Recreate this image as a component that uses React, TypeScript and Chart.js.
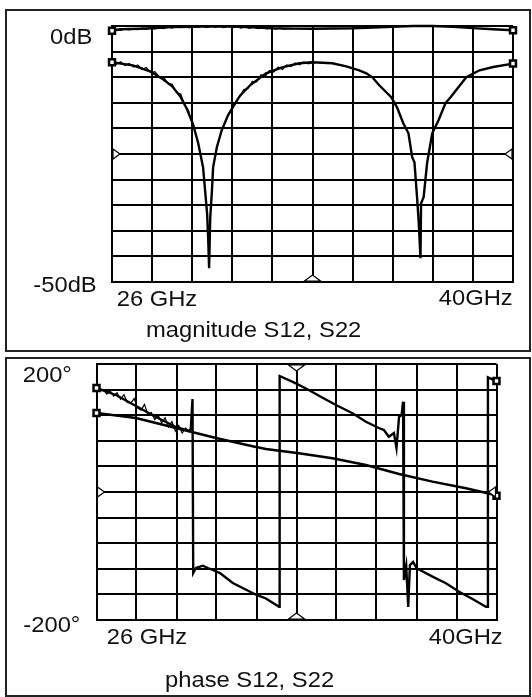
import React, { useEffect, useRef } from 'react';
import { Chart, registerables } from 'chart.js';

Chart.register(...registerables);

// ---------- axes ----------
const FREQ_TICKS = [26, 27.4, 28.8, 30.2, 31.6, 33, 34.4, 35.8, 37.2, 38.6, 40];
const MAG_TICKS = [-50, -45, -40, -35, -30, -25, -20, -15, -10, -5, 0];
const PHASE_TICKS = [-200, -160, -120, -80, -40, 0, 40, 80, 120, 160, 200];

// ---------- magnitude S12 (dB) ----------
const S12_MAG_F = [26.0, 26.28, 26.98, 27.4, 28.1, 28.8, 29.5, 30.2, 30.9, 31.6, 32.3, 33.0, 33.7, 34.4, 35.1, 35.8, 36.5, 37.2, 37.9, 38.6, 39.3, 40.0];
const S12_MAG_DB = [-0.94, -0.64, -0.55, -0.45, -0.21, -0.16, -0.06, -0.12, -0.25, -0.45, -0.51, -0.55, -0.5, -0.45, -0.31, -0.16, 0, 0, -0.16, -0.41, -0.64, -0.84];
const S12_MAG_NOISE_F = [26.0, 26.15, 26.3, 26.45, 26.6, 26.75, 26.9, 27.05, 27.2, 27.35, 27.5, 27.65, 27.8, 27.95, 28.1, 28.25, 28.4, 28.55, 28.7, 28.85, 29.0, 29.15, 29.3, 29.45, 29.6, 29.75, 29.9, 30.05, 30.2, 30.35, 30.5, 30.65, 30.8, 30.95, 31.1, 31.25, 31.4, 31.55, 31.7, 31.85, 32.0, 32.15, 32.3];
const S12_MAG_NOISE_DB = [-0.9, -0.6, -0.85, -0.55, -0.75, -0.5, -0.7, -0.4, -0.65, -0.35, -0.55, -0.3, -0.5, -0.15, -0.4, -0.1, -0.3, -0.05, -0.35, 0.0, -0.25, 0.0, -0.3, -0.05, -0.2, 0.0, -0.3, -0.05, -0.35, -0.1, -0.4, -0.15, -0.45, -0.2, -0.5, -0.3, -0.55, -0.35, -0.6, -0.4, -0.6, -0.45, -0.55];

// ---------- magnitude S22 (dB) ----------
const S22_MAG_F = [26.0, 26.73, 27.33, 27.78, 28.1, 28.38, 28.62, 28.83, 29.01, 29.18, 29.25, 29.32, 29.36, 29.39, 29.43, 29.49, 29.53, 29.66, 29.83, 30.05, 30.3, 30.47, 30.82, 31.38, 31.94, 32.54, 32.99, 33.69, 34.18, 34.63, 34.88, 35.09, 35.33, 35.75, 35.95, 36.17, 36.35, 36.48, 36.56, 36.65, 36.71, 36.77, 36.79, 36.88, 37.0, 37.18, 37.4, 37.64, 37.82, 38.37, 38.83, 39.31, 40.0];
const S22_MAG_DB = [-7.09, -7.68, -8.85, -10.41, -11.78, -13.73, -16.27, -19.2, -22.91, -27.6, -32.09, -36.58, -41.86, -47.33, -37.37, -32.09, -27.6, -23.69, -20.37, -17.44, -15.1, -13.6, -11.58, -9.24, -8.07, -7.28, -7.09, -7.28, -7.87, -8.65, -9.24, -10.02, -11.58, -13.92, -15.88, -19.0, -20.96, -25.64, -26.62, -33.45, -38.53, -45.37, -34.63, -33.45, -26.81, -20.96, -18.42, -15.1, -13.92, -10.02, -8.65, -8.0, -7.34];
const S22_MAG_NOISE_F = [26.0, 26.15, 26.3, 26.45, 26.6, 26.75, 26.9, 27.05, 27.2, 27.35, 27.5, 27.65, 27.8, 27.95, 28.1, 28.25, 28.4, 28.55, 28.7, 29.5, 30.45, 30.6, 30.75, 30.9, 31.05, 31.2, 31.35, 31.5, 31.65, 31.8, 31.95, 32.1, 32.25, 32.4, 32.55, 32.7, 32.85, 33.0];
const S22_MAG_NOISE_DB = [-7.1, -7.5, -7.0, -7.7, -7.3, -8.0, -7.6, -8.5, -8.1, -9.1, -8.9, -10.0, -10.0, -11.2, -11.4, -13.0, -13.3, -15.5, -16.9, null, -13.9, -12.4, -12.2, -10.8, -10.9, -9.5, -9.8, -8.7, -9.0, -8.0, -8.5, -7.6, -7.9, -7.2, -7.6, -7.0, -7.4, -7.1];

// ---------- phase S22 (deg) ----------
const S22_PH_F = [26.0, 27.38, 28.78, 30.18, 31.58, 31.93, 33.08, 34.26, 35.43, 36.59, 37.76, 38.93, 39.69, 40.0];
const S22_PH_DEG = [123.4, 115.6, 100.0, 84.4, 70.3, 67.2, 60.5, 52.7, 42.2, 28.1, 16.1, 5.8, -2.0, -5.8];

// ---------- phase S12 (deg) ----------
const S12_PH_F = [26.0, 26.68, 27.38, 28.08, 28.78, 29.23, 29.3, 29.36, 29.385, 29.48, 29.72, 29.9, 30.07, 30.32, 30.77, 31.6, 31.93, 32.39, 32.41, 32.98, 33.43, 33.85, 34.38, 34.96, 35.43, 35.88, 36.06, 36.23, 36.41, 36.5, 36.59, 36.68, 36.73, 36.76, 36.84, 36.91, 36.97, 37.08, 37.2, 37.32, 37.76, 38.23, 38.69, 39.16, 39.63, 39.69, 39.7, 40.0];
const S12_PH_DEG = [162.5, 151.6, 134.4, 117.2, 101.6, 95.3, 98.4, 145.3, -126.6, -118.75, -115.2, -118.75, -121.9, -126.6, -142.2, -160.9, -166.4, -179.2, 181.25, 169.8, 159.4, 148.9, 135.9, 123.0, 109.8, 100.0, 96.9, 86.4, 92.2, 68.75, 117.7, 120.3, 141.1, -137.5, -115.6, -179.7, -114.1, -109.4, -118.75, -121.9, -132.3, -142.6, -155.8, -167.2, -179.2, -179.2, 179.2, 173.4];
const S12_PH_NOISE_F = [26.0, 26.12, 26.24, 26.36, 26.48, 26.6, 26.72, 26.84, 26.96, 27.08, 27.2, 27.32, 27.44, 27.56, 27.68, 27.8, 27.92, 28.04, 28.16, 28.28, 28.4, 28.52, 28.64, 28.76, 28.88, 29.0, 29.12, 29.24];
const S12_PH_NOISE_DEG = [162, 157, 160, 153, 158, 150, 155, 145, 152, 140, 139, 146, 131, 128, 137, 121, 124, 113, 120, 108, 116, 102, 110, 95, 104, 92, 100, 94];

type Txt = { s: string; x: number; y: number; align?: CanvasTextAlign };

function zip(xs: number[], ys: (number | null)[]) {
  const n = Math.min(xs.length, ys.length);
  const out: { x: number; y: number | null }[] = [];
  for (let i = 0; i < n; i++) out.push({ x: xs[i], y: ys[i] });
  return out;
}

function mainSet(xs: number[], ys: number[]) {
  return {
    data: zip(xs, ys),
    borderColor: '#000',
    borderWidth: 2.4,
    tension: 0,
    clip: false as any,
    pointStyle: 'rect' as const,
    pointBackgroundColor: '#fff',
    pointBorderColor: '#000',
    pointBorderWidth: 2.5,
    pointRadius: (c: any) => (c.dataIndex === 0 || c.dataIndex === c.dataset.data.length - 1 ? 4.2 : 0),
  };
}

function noiseSet(xs: number[], ys: (number | null)[]) {
  return {
    data: zip(xs, ys),
    borderColor: '#000',
    borderWidth: 1.2,
    tension: 0,
    pointRadius: 0,
    spanGaps: false,
  };
}

function decorPlugin(refX: number, refY: number, topMarker: boolean, texts: Txt[]) {
  return {
    id: 'decor',
    afterDraw(chart: any) {
      const { ctx, chartArea, scales } = chart;
      const L = chartArea.left, R = chartArea.right, T = chartArea.top, B = chartArea.bottom;
      const ym = scales.y.getPixelForValue(refY);
      const xm = scales.x.getPixelForValue(refX);
      ctx.save();
      ctx.strokeStyle = '#000';
      ctx.lineWidth = 1.2;
      const tri = (pts: number[][]) => {
        ctx.beginPath();
        ctx.moveTo(pts[0][0], pts[0][1]);
        ctx.lineTo(pts[1][0], pts[1][1]);
        ctx.lineTo(pts[2][0], pts[2][1]);
        ctx.closePath();
        ctx.fillStyle = '#fff';
        ctx.fill();
        ctx.stroke();
      };
      tri([[L + 1, ym - 5], [L + 8, ym], [L + 1, ym + 5]]);
      tri([[R - 1, ym - 5], [R - 8, ym], [R - 1, ym + 5]]);
      tri([[xm - 8, B - 1], [xm, B - 7], [xm + 8, B - 1]]);
      if (topMarker) tri([[xm - 8, T + 1], [xm, T + 7], [xm + 8, T + 1]]);

      ctx.fillStyle = '#111';
      ctx.font = '22px "Liberation Sans", Arial, sans-serif';
      ctx.textBaseline = 'alphabetic';
      for (const t of texts) {
        ctx.save();
        ctx.translate(t.x, t.y);
        ctx.scale(1.08, 1);
        ctx.textAlign = t.align || 'left';
        ctx.fillText(t.s, 0, 0);
        ctx.restore();
      }
      ctx.restore();
    },
  };
}

function axisOpts(min: number, max: number, ticks: number[], isX: boolean) {
  return {
    type: 'linear' as const,
    position: isX ? ('bottom' as const) : ('left' as const),
    min,
    max,
    ticks: { display: false },
    grid: { color: '#000', lineWidth: 2, drawTicks: false },
    border: { display: true, color: '#000', width: 2 },
    afterBuildTicks: (s: any) => {
      s.ticks = ticks.map((v) => ({ value: v }));
    },
    afterFit: (s: any) => {
      if (isX) s.height = 0;
      else s.width = 0;
    },
  };
}

function makeChart(
  canvas: HTMLCanvasElement,
  datasets: any[],
  yMin: number,
  yMax: number,
  yTicks: number[],
  padding: { left: number; right: number; top: number; bottom: number },
  plugin: any
) {
  return new Chart(canvas, {
    type: 'line',
    data: { datasets },
    options: {
      animation: false,
      responsive: false,
      devicePixelRatio: 1,
      events: [],
      layout: { padding },
      plugins: { legend: { display: false }, tooltip: { enabled: false } },
      scales: {
        x: axisOpts(26, 40, FREQ_TICKS, true),
        y: axisOpts(yMin, yMax, yTicks, false),
      },
    } as any,
    plugins: [plugin],
  });
}

export default function App() {
  const magRef = useRef<HTMLCanvasElement>(null);
  const phRef = useRef<HTMLCanvasElement>(null);

  useEffect(() => {
    const magTexts: Txt[] = [
      { s: '0dB', x: 50, y: 44 },
      { s: '-50dB', x: 33.3, y: 292 },
      { s: '26 GHz', x: 116.7, y: 305.5 },
      { s: '40GHz', x: 512.7, y: 305, align: 'right' },
      { s: 'magnitude S12, S22', x: 146, y: 337 },
    ];
    const phTexts: Txt[] = [
      { s: '200°', x: 22.7, y: 28 },
      { s: '-200°', x: 23.3, y: 278 },
      { s: '26 GHz', x: 106.7, y: 290 },
      { s: '40GHz', x: 502.7, y: 290, align: 'right' },
      { s: 'phase S12, S22', x: 165, y: 333 },
    ];
    const c1 = makeChart(
      magRef.current!,
      [
        mainSet(S12_MAG_F, S12_MAG_DB),
        noiseSet(S12_MAG_NOISE_F, S12_MAG_NOISE_DB),
        mainSet(S22_MAG_F, S22_MAG_DB),
        noiseSet(S22_MAG_NOISE_F, S22_MAG_NOISE_DB),
      ],
      -50,
      0,
      MAG_TICKS,
      { left: 112, right: 19, top: 26, bottom: 72 },
      decorPlugin(33, -25, false, magTexts)
    );
    const c2 = makeChart(
      phRef.current!,
      [
        mainSet(S12_PH_F, S12_PH_DEG),
        noiseSet(S12_PH_NOISE_F, S12_PH_NOISE_DEG),
        mainSet(S22_PH_F, S22_PH_DEG),
      ],
      -200,
      200,
      PHASE_TICKS,
      { left: 96.5, right: 35.5, top: 10, bottom: 77 },
      decorPlugin(33, 0, true, phTexts)
    );
    return () => {
      c1.destroy();
      c2.destroy();
    };
  }, []);

  return (
    <div style={{ position: 'absolute', left: 0, top: 0, width: 532, height: 697, background: '#fff', overflow: 'hidden' }}>
      <div style={{ position: 'absolute', left: 5, top: 9, width: 526, height: 343, border: '2px solid #222', boxSizing: 'border-box' }} />
      <div style={{ position: 'absolute', left: 5, top: 357, width: 526, height: 340, border: '2px solid #222', boxSizing: 'border-box' }} />
      <canvas ref={magRef} width={532} height={354} style={{ position: 'absolute', left: 0, top: 0, width: 532, height: 354 }} />
      <canvas ref={phRef} width={532} height={343} style={{ position: 'absolute', left: 0, top: 354, width: 532, height: 343 }} />
    </div>
  );
}
